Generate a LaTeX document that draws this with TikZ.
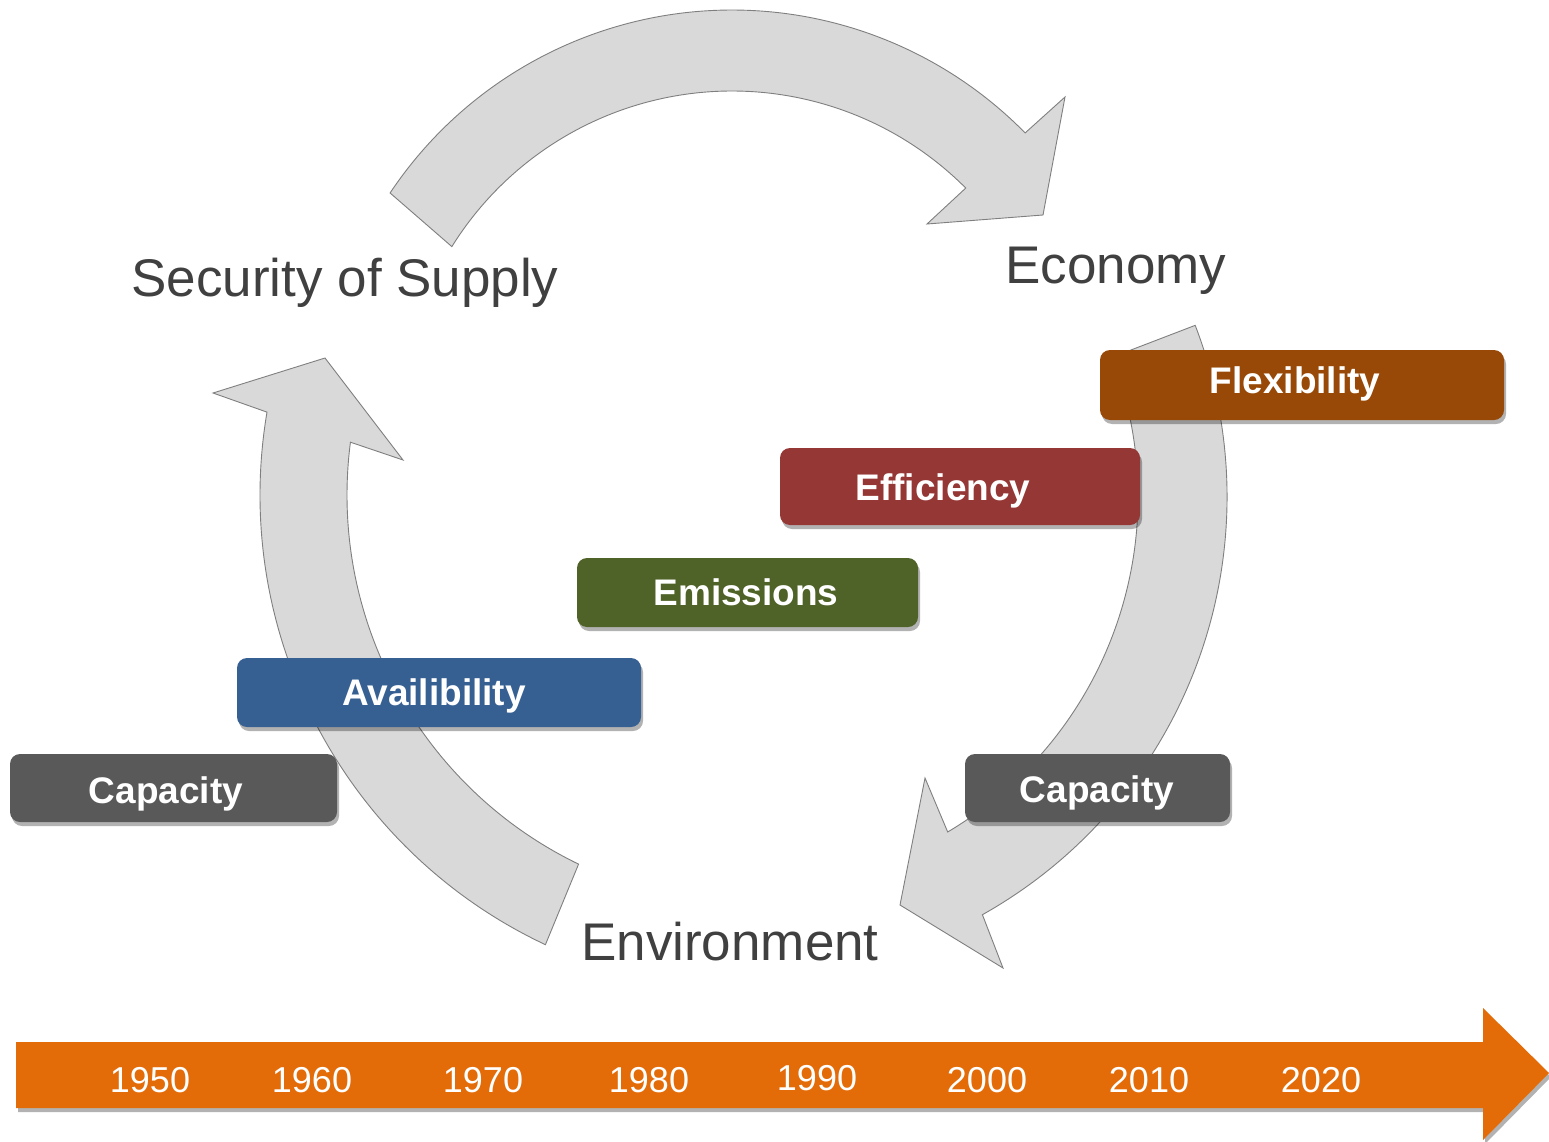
\documentclass[tikz,border=0pt]{standalone}
\usepackage{fontspec}
\setmainfont{Liberation Sans}
\usetikzlibrary{shadows}
\definecolor{arrowgray}{HTML}{D9D9D9}
\definecolor{edgegray}{HTML}{7F7F7F}
\definecolor{labelgray}{HTML}{404040}
\definecolor{flexcol}{HTML}{984807}
\definecolor{efficol}{HTML}{953735}
\definecolor{emiscol}{HTML}{4F6228}
\definecolor{availcol}{HTML}{376092}
\definecolor{capcol}{HTML}{595959}
\definecolor{timecol}{HTML}{E36C09}
\tikzset{
  cyclearrow/.style={fill=arrowgray, draw=edgegray, line width=0.9pt, line join=miter},
  bigtext/.style={anchor=base, text=labelgray, inner sep=0pt, font=\fontsize{53}{60}\selectfont},
  tagbox/.style={rounded corners=10pt, draw=none, inner sep=0pt,
     drop shadow={shadow xshift=2pt, shadow yshift=-4pt, opacity=0.3, fill=black}},
  tagtext/.style={anchor=base, text=white, inner sep=0pt, font=\bfseries\fontsize{37}{44}\selectfont},
  yeartext/.style={anchor=base, text=white, inner sep=0pt, font=\fontsize{36}{42}\selectfont},
}
\begin{document}
\begin{tikzpicture}[x=1pt,y=1pt]
\useasboundingbox (0,0) rectangle (1549,-1142);

% top arrow (Security of Supply -> Economy)
\draw[cyclearrow] ([shift={(732,-421)}]148.1:330) -- ([shift={(732,-421)}]146.3:411)
   arc[start angle=146.3, end angle=44.5, radius=411]
   -- (1065,-97) -- (1043,-215) -- (927,-224)
   -- ([shift={(732,-421)}]44.9:330)
   arc[start angle=44.9, end angle=148.1, radius=330] -- cycle;

% left arrow (Environment -> Security of Supply)
\draw[cyclearrow] ([shift={(757,-495)}]244.2:410) -- ([shift={(757,-495)}]244.8:497)
   arc[start angle=244.8, end angle=170.4, radius=497]
   -- (213,-393) -- (325,-358) -- (403,-460)
   -- ([shift={(757,-495)}]172.6:410)
   arc[start angle=172.6, end angle=244.2, radius=410] -- cycle;

% right arrow (Economy -> Environment)
\draw[cyclearrow] ([shift={(748,-497)}]21:390) -- ([shift={(748,-497)}]21:479)
   arc[start angle=21, end angle=-60.7, radius=479]
   -- (1003,-968) -- (900,-905) -- (925,-778)
   -- ([shift={(748,-497)}]-59.2:390)
   arc[start angle=-59.2, end angle=21, radius=390] -- cycle;

% main labels
\node[bigtext] (sec) at (345,-296) {Security of Supply};
\node[bigtext] (eco) at (1116,-283) {Economy};
\node[bigtext] (env) at (730,-960) {Environment};

% tag boxes
\node[tagbox, fill=flexcol, minimum width=404pt, minimum height=70pt] (flexbox) at (1302,-385) {};
\node[tagtext] (flex) at (1295,-393) {Flexibility};
\node[tagbox, fill=efficol, minimum width=360pt, minimum height=77pt] (effbox) at (960,-486.5) {};
\node[tagtext] (eff) at (943,-500) {Efficiency};
\node[tagbox, fill=emiscol, minimum width=341pt, minimum height=69pt] (emisbox) at (747.5,-592.5) {};
\node[tagtext] (emis) at (746,-605) {Emissions};
\node[tagbox, fill=availcol, minimum width=404pt, minimum height=69pt] (availbox) at (439,-692.5) {};
\node[tagtext] (avail) at (434,-705) {Availibility};
\node[tagbox, fill=capcol, minimum width=327pt, minimum height=68pt] (capLbox) at (173.5,-788) {};
\node[tagtext] (capL) at (166,-803) {Capacity};
\node[tagbox, fill=capcol, minimum width=265pt, minimum height=68pt] (capRbox) at (1097.5,-788) {};
\node[tagtext] (capR) at (1097,-802) {Capacity};

% timeline arrow
\fill[timecol, drop shadow={shadow xshift=2pt, shadow yshift=-4pt, opacity=0.3, fill=black}]
  (16,-1042) -- (1483,-1042) -- (1483,-1008) -- (1549,-1073) -- (1483,-1140)
  -- (1483,-1108) -- (16,-1108) -- cycle;
\node[yeartext] (y1950) at (150,-1092) {1950};
\node[yeartext] (y1960) at (312,-1092) {1960};
\node[yeartext] (y1970) at (483,-1092) {1970};
\node[yeartext] (y1980) at (649,-1092) {1980};
\node[yeartext] (y1990) at (817,-1090) {1990};
\node[yeartext] (y2000) at (987,-1092) {2000};
\node[yeartext] (y2010) at (1149,-1092) {2010};
\node[yeartext] (y2020) at (1321,-1092) {2020};
\end{tikzpicture}
\end{document}
